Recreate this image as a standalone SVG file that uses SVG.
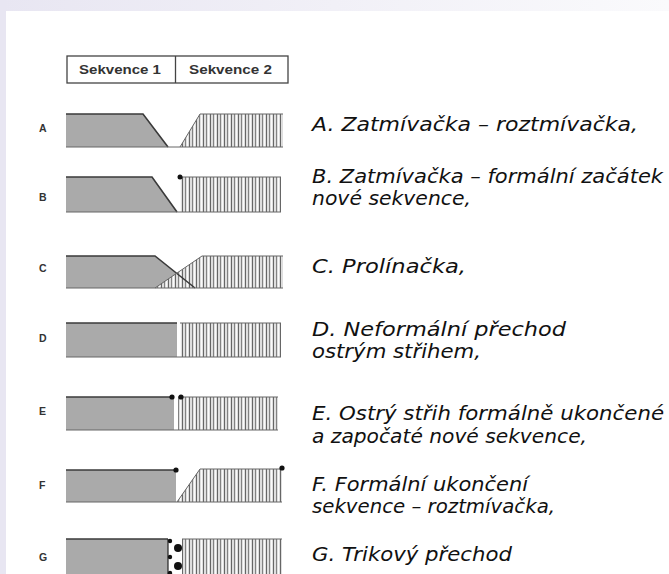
<svg xmlns="http://www.w3.org/2000/svg" width="669" height="574" viewBox="0 0 669 574">
<defs>
<linearGradient id="topg" x1="0" y1="0" x2="1" y2="0">
<stop offset="0" stop-color="#e8e6f2"/>
<stop offset="1" stop-color="#fafafc"/>
</linearGradient>
<pattern id="stripes" patternUnits="userSpaceOnUse" width="7" height="10">
<rect width="7" height="10" fill="#dedede"/>
<rect x="0" width="1" height="10" fill="#666"/>
<rect x="3" width="1" height="10" fill="#828282"/>
<rect x="5" width="1" height="10" fill="#fafafa"/>
</pattern>
</defs>
<style>
.lbl{font-family:"Liberation Sans",Arial,sans-serif;font-weight:bold;font-size:10.5px;fill:#333}
.hdr{font-family:"Liberation Sans",Arial,sans-serif;font-weight:bold;font-size:13px;fill:#333}
.desc{font-family:"DejaVu Sans","Noto Sans",sans-serif;font-style:italic;font-size:20px;fill:#111}
.gray{fill:#aaaaaa}
.str{fill:url(#stripes)}
.edge{stroke:#3a3a3a;stroke-width:1.6;fill:none}
.thin{stroke:#666;stroke-width:1;fill:none}
.dot{fill:#111}
</style>
<rect width="669" height="574" fill="#ffffff"/>
<rect width="669" height="11" fill="url(#topg)"/>
<rect width="6" height="574" fill="#e8e6f2"/>

<g id="header">
<rect x="67" y="56" width="221" height="27" fill="#fff" stroke="#444" stroke-width="1.3"/>
<line x1="175.5" y1="56" x2="175.5" y2="83" stroke="#444" stroke-width="1.3"/>
<text class="hdr" x="79" y="74" textLength="82" lengthAdjust="spacingAndGlyphs">Sekvence 1</text>
<text class="hdr" x="189" y="74" textLength="83" lengthAdjust="spacingAndGlyphs">Sekvence 2</text>
</g>

<g id="rowA">
<text class="lbl" x="39" y="132">A</text>
<polygon class="gray" points="66,114 143,114 168,147 66,147"/>
<polygon class="str" points="180,147 200,114 283,114 283,147"/>
<path class="edge" d="M66,114 H143 L168,147"/>
<path class="thin" d="M180,147 L200,114 H283"/>
<line class="thin" x1="66" y1="147" x2="283" y2="147"/>
<text class="desc" x="312" y="131" textLength="326" lengthAdjust="spacingAndGlyphs">A. Zatmívačka – roztmívačka,</text>
</g>

<g id="rowB">
<text class="lbl" x="39" y="201">B</text>
<polygon class="gray" points="66,177 152,177 177,212 66,212"/>
<rect class="str" x="180" y="177" width="101" height="35"/>
<path class="edge" d="M66,177 H152 L177,212"/>
<line class="thin" x1="180" y1="177" x2="281" y2="177"/>
<line class="thin" x1="66" y1="212" x2="281" y2="212"/>
<circle class="dot" cx="180" cy="177" r="2.5"/>
<text class="desc" x="312" y="183" textLength="351" lengthAdjust="spacingAndGlyphs">B. Zatmívačka – formální začátek</text>
<text class="desc" x="312" y="205" textLength="159" lengthAdjust="spacingAndGlyphs">nové sekvence,</text>
</g>

<g id="rowC">
<text class="lbl" x="39" y="272">C</text>
<polygon class="gray" points="66,256 155,256 195,288 66,288"/>
<polygon class="str" points="155,288 202,256 283,256 283,288"/>
<path class="edge" d="M66,256 H155 L195,288"/>
<path class="thin" d="M155,288 L202,256 H283"/>
<line class="thin" x1="66" y1="288" x2="283" y2="288"/>
<text class="desc" x="312" y="273" textLength="154" lengthAdjust="spacingAndGlyphs">C. Prolínačka,</text>
</g>

<g id="rowD">
<text class="lbl" x="39" y="342">D</text>
<rect class="gray" x="66" y="323" width="111" height="34"/>
<rect class="str" x="180" y="323" width="101" height="34"/>
<line class="edge" x1="66" y1="323" x2="177" y2="323"/>
<line class="thin" x1="180" y1="323" x2="281" y2="323"/>
<line class="thin" x1="66" y1="357" x2="281" y2="357"/>
<text class="desc" x="312" y="336" textLength="254" lengthAdjust="spacingAndGlyphs">D. Neformální přechod</text>
<text class="desc" x="312" y="358" textLength="169" lengthAdjust="spacingAndGlyphs">ostrým střihem,</text>
</g>

<g id="rowE">
<text class="lbl" x="39" y="415">E</text>
<rect class="gray" x="66" y="397" width="108" height="33"/>
<rect class="str" x="178" y="397" width="100" height="33"/>
<line class="edge" x1="66" y1="397" x2="174" y2="397"/>
<line class="thin" x1="178" y1="397" x2="278" y2="397"/>
<line class="thin" x1="66" y1="430" x2="278" y2="430"/>
<circle class="dot" cx="172" cy="397" r="2.6"/>
<circle class="dot" cx="181" cy="397" r="2.6"/>
<text class="desc" x="312" y="420" textLength="352" lengthAdjust="spacingAndGlyphs">E. Ostrý střih formálně ukončené</text>
<text class="desc" x="312" y="443" textLength="275" lengthAdjust="spacingAndGlyphs">a započaté nové sekvence,</text>
</g>

<g id="rowF">
<text class="lbl" x="39" y="489">F</text>
<rect class="gray" x="66" y="470" width="110" height="32"/>
<polygon class="str" points="177,502 200,469 282,469 282,502"/>
<line class="edge" x1="66" y1="470" x2="176" y2="470"/>
<path class="thin" d="M177,502 L200,469 H282"/>
<line class="thin" x1="66" y1="502" x2="282" y2="502"/>
<circle class="dot" cx="176" cy="470" r="2.6"/>
<circle class="dot" cx="282" cy="468" r="2.6"/>
<text class="desc" x="312" y="491" textLength="216" lengthAdjust="spacingAndGlyphs">F. Formální ukončení</text>
<text class="desc" x="312" y="513" textLength="243" lengthAdjust="spacingAndGlyphs">sekvence – roztmívačka,</text>
</g>

<g id="rowG">
<text class="lbl" x="39" y="561">G</text>
<rect class="gray" x="66" y="539" width="102" height="40"/>
<rect class="str" x="182" y="539" width="100" height="40"/>
<line class="edge" x1="66" y1="539" x2="168" y2="539"/>
<line class="thin" x1="182" y1="539" x2="282" y2="539"/>
<line x1="168" y1="539" x2="168" y2="574" stroke="#222" stroke-width="1.2"/>
<circle class="dot" cx="170" cy="541" r="2.2"/>
<circle class="dot" cx="170" cy="557" r="2.2"/>
<circle class="dot" cx="170" cy="573" r="2.2"/>
<circle class="dot" cx="178" cy="548" r="4"/>
<circle class="dot" cx="178" cy="566" r="4"/>
<text class="desc" x="312" y="561" textLength="200" lengthAdjust="spacingAndGlyphs">G. Trikový přechod</text>
</g>
</svg>
